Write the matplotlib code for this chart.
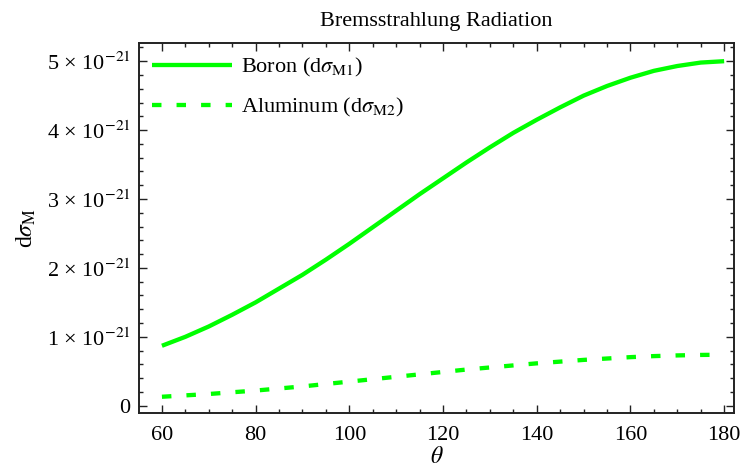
import numpy as np
import matplotlib.pyplot as plt
from matplotlib.ticker import MultipleLocator, FixedLocator

plt.rcParams['font.family'] = ['Liberation Serif', 'DejaVu Serif']
plt.rcParams['mathtext.fontset'] = 'stix'

# Data (cross-section in units of 1e-21)
theta = [60, 65, 70, 75, 80, 85, 90, 95, 100, 105, 110, 115, 120,
         125, 130, 135, 140, 145, 150, 155, 160, 165, 170, 175, 180]
boron = [0.87, 1.00, 1.15, 1.32, 1.50, 1.70, 1.90, 2.12, 2.35, 2.59, 2.83, 3.07, 3.30,
         3.53, 3.75, 3.96, 4.15, 4.33, 4.50, 4.64, 4.76, 4.86, 4.93, 4.98, 5.00]
aluminum = [0.13, 0.15, 0.17, 0.195, 0.22, 0.25, 0.28, 0.315, 0.35, 0.385, 0.42, 0.455, 0.49,
            0.525, 0.555, 0.585, 0.615, 0.64, 0.665, 0.685, 0.705, 0.72, 0.73, 0.737, 0.74]
scale = 1e-21

ytick_vals = [0, 1, 2, 3, 4, 5]
ytick_labels = ['0'] + ['%d \u00d7 10$^{-21}$' % v for v in ytick_vals[1:]]
xtick_vals = [60, 80, 100, 120, 140, 160, 180]

green = '#00ff00'

fig = plt.figure(figsize=(7.42, 4.71), dpi=100)
ax = fig.add_axes([0.1873, 0.1231, 0.8019, 0.7856])

ax.plot(theta, np.array(boron) * scale, color=green, lw=3.1,
        solid_capstyle='butt', label=r'Boron (d$\sigma_{\mathrm{M1}}$)')
ax.plot(theta, np.array(aluminum) * scale, color=green, lw=3.1,
        dashes=(2.2, 3.5), dash_capstyle='butt', label=r'Aluminum (d$\sigma_{\mathrm{M2}}$)')

ax.set_xlim(55.1, 182.1)
ax.set_ylim(-0.106e-21, 5.264e-21)

ax.yaxis.set_major_locator(FixedLocator([v * scale for v in ytick_vals]))
ax.set_yticklabels(ytick_labels)
ax.yaxis.set_minor_locator(MultipleLocator(0.2e-21))
ax.set_xticks(xtick_vals)
ax.xaxis.set_minor_locator(MultipleLocator(5))

ax.tick_params(which='both', direction='in', top=True, right=True,
               labelsize=16, color='#222222', width=1.0)
ax.tick_params(which='major', length=5.8)
ax.tick_params(axis='x', which='major', pad=9)
ax.tick_params(axis='y', which='major', pad=6)
ax.tick_params(which='minor', length=2.9)
for s in ax.spines.values():
    s.set_linewidth(1.4)
    s.set_color('#222222')

ax.set_title('Bremsstrahlung Radiation', fontsize=16, pad=12)
ax.set_xlabel(r'$\theta$', fontsize=17, labelpad=2)
ax.set_ylabel(r'd$\sigma_{\mathrm{M}}$', fontsize=17, labelpad=6)

ax.legend(loc='upper left', frameon=False, fontsize=16, handlelength=3.6,
          handletextpad=0.4, labelspacing=0.75, borderaxespad=0.2,
          bbox_to_anchor=(0.0, 1.0))

fig.savefig('out.png', dpi=100)
